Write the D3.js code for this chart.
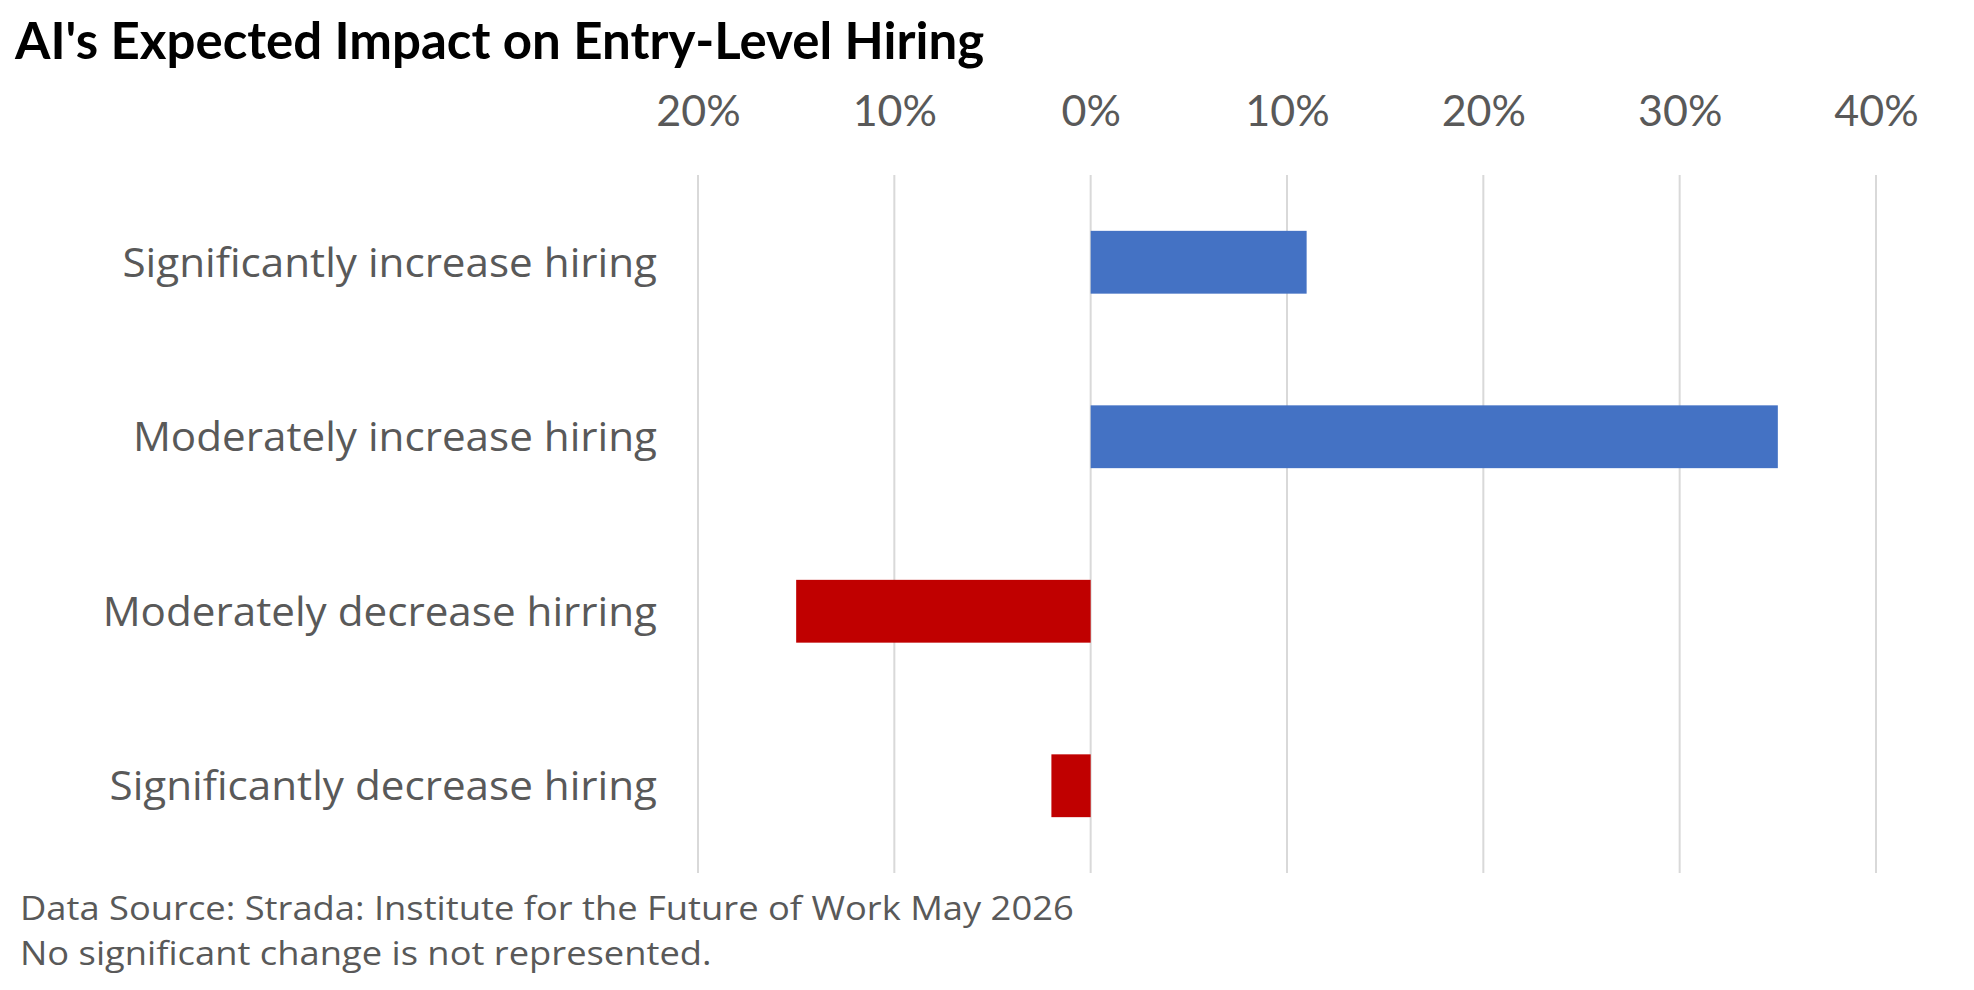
<!DOCTYPE html>
<html>
<head>
<meta charset="utf-8">
<script src="https://cdn.jsdelivr.net/npm/d3@7.9.0/dist/d3.min.js"></script>
<style>
  html, body { margin: 0; padding: 0; background: #fff; }
  svg { display: block; font-family: "Open Sans", Lato, sans-serif; }
</style>
</head>
<body>
<svg id="chart" width="1974" height="990"></svg>
<script>
// chart data
const categories = [
  "Significantly increase hiring",
  "Moderately increase hiring",
  "Moderately decrease hirring",
  "Significantly decrease hiring"
];
const values = [0.11, 0.35, -0.15, -0.02];
const tickValues = [-0.2, -0.1, 0, 0.1, 0.2, 0.3, 0.4];
const titleText = "AI's Expected Impact on Entry-Level Hiring";
const notes = [
  "Data Source: Strada: Institute for the Future of Work May 2026",
  "No significant change is not represented."
];

const svg = d3.select("#chart");
const textGrey = "#595959";

const x = d3.scaleLinear().domain([-0.2, 0.4]).range([698, 1876]);
const y = d3.scaleBand()
  .domain(categories)
  .range([175, 873])
  .paddingInner(0.64)
  .paddingOuter(0.32);

// gridlines
svg.append("g")
  .selectAll("line")
  .data(tickValues)
  .join("line")
  .attr("x1", d => x(d)).attr("x2", d => x(d))
  .attr("y1", 175).attr("y2", 873)
  .attr("stroke", "#d9d9d9")
  .attr("stroke-width", 2);

// top axis labels, shown as absolute values
const fmt = d3.format(".0%");
const xAxis = d3.axisTop(x)
  .tickValues(tickValues)
  .tickFormat(d => fmt(Math.abs(d)))
  .tickSize(0)
  .tickPadding(0);

const axisG = svg.append("g")
  .attr("transform", "translate(0,126)")
  .call(xAxis);
axisG.select(".domain").remove();
axisG.selectAll("text")
  .attr("y", 0).attr("dy", 0)
  .attr("font-family", "Lato")
  .attr("font-size", 43)
  .attr("fill", textGrey);

// bars
svg.append("g")
  .selectAll("rect")
  .data(values)
  .join("rect")
  .attr("x", d => x(Math.min(0, d)))
  .attr("width", d => Math.abs(x(d) - x(0)))
  .attr("y", (d, i) => y(categories[i]))
  .attr("height", y.bandwidth())
  .attr("fill", d => d >= 0 ? "#4472c4" : "#c00000");

// category labels (slightly widened, the original font is Calibri)
const labelSize = 40;
svg.append("g")
  .selectAll("text")
  .data(categories)
  .join("text")
  .attr("transform", d => `translate(657,${y(d) + y.bandwidth() / 2 + labelSize * 0.357}) scale(1.055,1)`)
  .attr("text-anchor", "end")
  .attr("font-size", labelSize)
  .attr("fill", textGrey)
  .text(d => d);

// title
svg.append("text")
  .attr("x", 15).attr("y", 59)
  .attr("font-family", "Lato")
  .attr("font-size", 51)
  .attr("font-weight", 700)
  .attr("fill", "#000")
  .text(titleText);

// notes under the chart
svg.append("g")
  .selectAll("text")
  .data(notes)
  .join("text")
  .attr("transform", (d, i) => `translate(20,${920 + i * 45}) scale(1.135,1)`)
  .attr("font-size", 32)
  .attr("fill", textGrey)
  .text(d => d);
</script>
</body>
</html>
